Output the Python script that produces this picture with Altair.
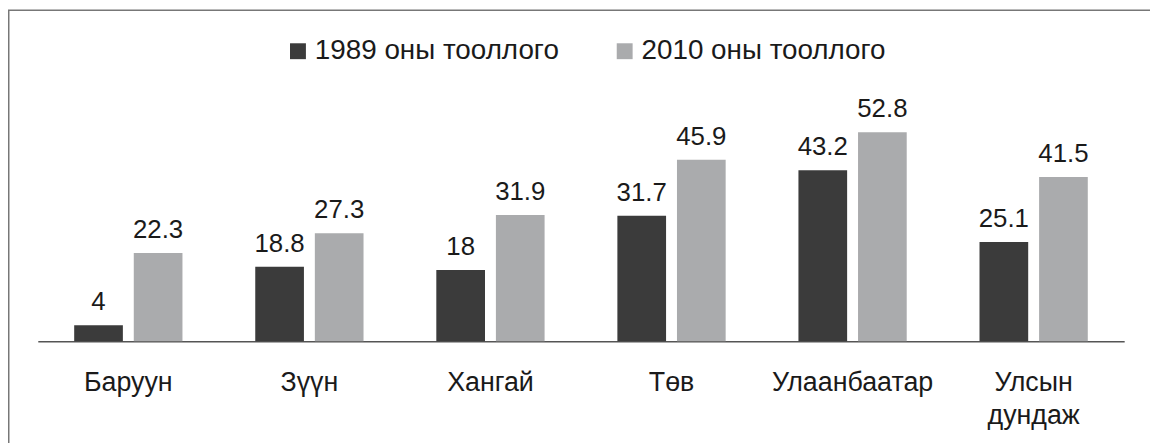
import altair as alt
import pandas as pd

regions = ["Баруун", "Зүүн", "Хангай", "Төв", "Улаанбаатар", "Улсын дундаж"]
census_1989 = [4, 18.8, 18, 31.7, 43.2, 25.1]
census_2010 = [22.3, 27.3, 31.9, 45.9, 52.8, 41.5]
series = ["1989 оны тооллого", "2010 оны тооллого"]
colors = ["#3b3b3b", "#aaabad"]

rows = []
for r, a, b in zip(regions, census_1989, census_2010):
    rows.append({"region": r, "series": series[0], "value": a, "label": f"{a:g}"})
    rows.append({"region": r, "series": series[1], "value": b, "label": f"{b:g}"})
df = pd.DataFrame(rows)

FONT = "Liberation Sans"
TXT = "#1a1a1a"

x = alt.X(
    "region:N", sort=regions, title=None,
    scale=alt.Scale(paddingInner=0.402, paddingOuter=0.201),
    axis=alt.Axis(
        labelAngle=0, labelFontSize=27, labelColor=TXT, labelFont=FONT,
        ticks=False, domainColor="#555555", domainWidth=1.5,
        labelPadding=50, labelExpr="split(datum.label, ' ')",
        labelLineHeight=33, labelBaseline="alphabetic",
    ),
)
xoff = alt.XOffset("series:N", sort=series,
                   scale=alt.Scale(paddingInner=0.183, paddingOuter=0))
y = alt.Y("value:Q", scale=alt.Scale(domain=[0, 60]), axis=None)

base = alt.Chart(df)
bars = base.mark_bar().encode(
    x=x, xOffset=xoff, y=y,
    color=alt.Color(
        "series:N", sort=series,
        scale=alt.Scale(domain=series, range=colors),
        legend=alt.Legend(
            title=None, orient="none", direction="horizontal",
            legendX=248, legendY=-67, symbolType="square", symbolSize=256,
            symbolStrokeWidth=0, labelFontSize=28, labelFont=FONT,
            labelColor=TXT, labelOffset=3, columnPadding=52, padding=0,
            labelLimit=500,
        ),
    ),
)
labels = base.mark_text(
    baseline="bottom", dy=-10, fontSize=26, font=FONT, color=TXT
).encode(x=x, xOffset=xoff, y=y, text="label:N")

frame = alt.Chart(pd.DataFrame({"k": [0]})).mark_rect(
    fillOpacity=0, stroke="#777777", strokeWidth=1.5
).encode(
    x=alt.value(-29.25), x2=alt.value(1300),
    y=alt.value(-94.25), y2=alt.value(700),
)

chart = alt.layer(frame, bars, labels).properties(
    width=1094, height=239,
    autosize=alt.AutoSizeParams(type="none"),
    padding={"left": 30, "top": 95, "right": 26, "bottom": 101},
).configure_view(strokeWidth=0)

chart.save("out.html", embed_options={"renderer": "svg", "actions": False})
